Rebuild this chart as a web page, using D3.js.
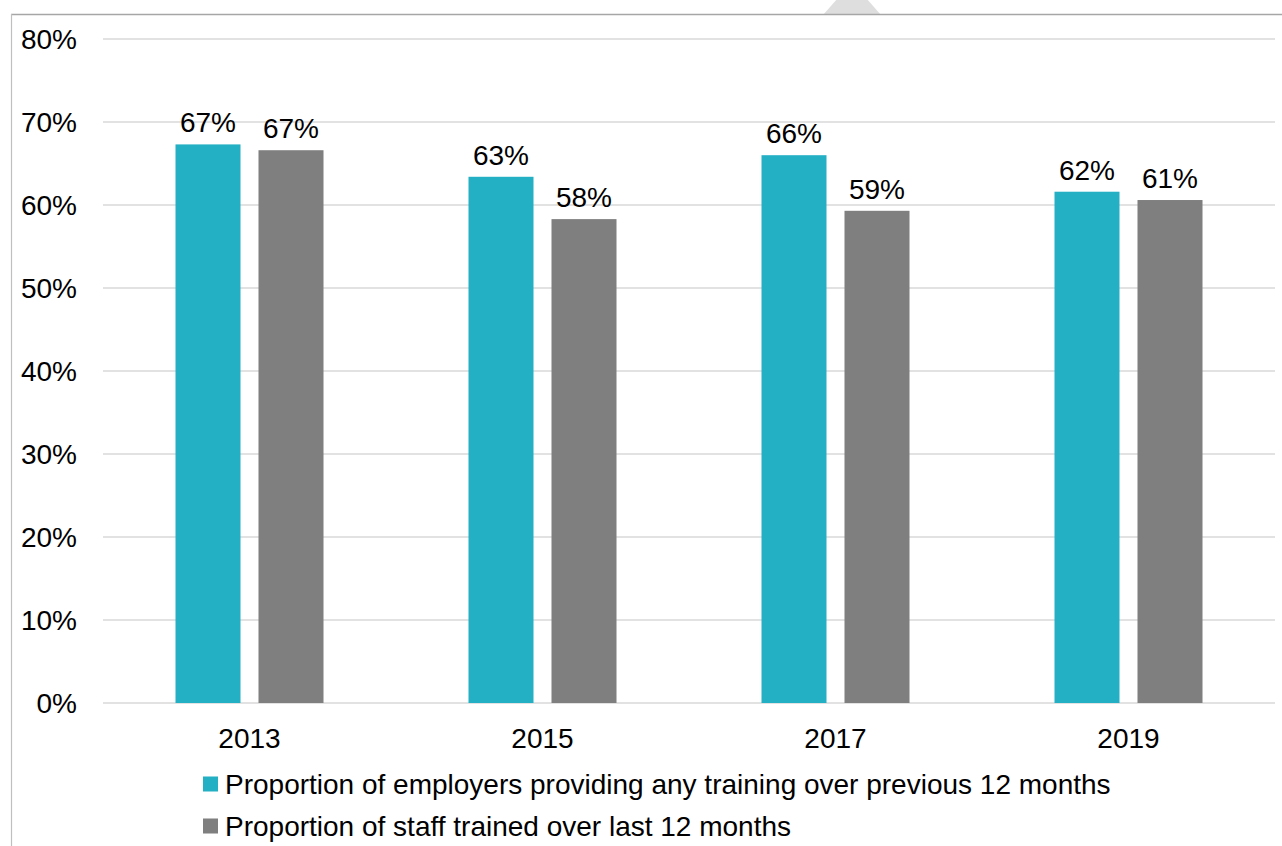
<!DOCTYPE html>
<html><head><meta charset="utf-8">
<script src="https://cdn.jsdelivr.net/npm/d3@7"></script>
<style>body{margin:0;background:#fff}svg{display:block}</style>
</head><body>
<svg id="c" width="1282" height="846"></svg>
<script>
const years = ["2013","2015","2017","2019"];
const employers = [67.3, 63.4, 66.0, 61.6];
const staff = [66.6, 58.3, 59.3, 60.6];
const employersLabels = ["67%","63%","66%","62%"];
const staffLabels = ["67%","58%","59%","61%"];
const yTicks = [0,10,20,30,40,50,60,70,80];
const seriesNames = ["Proportion of employers providing any training over previous 12 months","Proportion of staff trained over last 12 months"];
const colors = ["#23B0C5","#7F7F7F"];

const svg = d3.select("#c");
const font = "'Liberation Sans', Arial, sans-serif";
const fs = 28;

// decorative triangle at top
svg.append("path").attr("d","M823,15 L838,-2 L866,-2 L881,15 Z").attr("fill","#dedede");
// frame
svg.append("line").attr("x1",11).attr("x2",1282).attr("y1",14.5).attr("y2",14.5).attr("stroke","#a6a6a6").attr("stroke-width",1.5);
svg.append("line").attr("x1",11.5).attr("x2",11.5).attr("y1",14).attr("y2",846).attr("stroke","#bfbfbf").attr("stroke-width",1.2);

const x = d3.scaleBand().domain(years).range([103,1275]).paddingInner(0).paddingOuter(0);
const y = d3.scaleLinear().domain([0,80]).range([703,39]);

// gridlines
svg.append("g").selectAll("line").data(yTicks).join("line")
  .attr("x1",103).attr("x2",1275).attr("y1",d=>y(d)).attr("y2",d=>y(d))
  .attr("stroke","#d9d9d9").attr("stroke-width",1.3);

// y labels
svg.append("g").selectAll("text").data(yTicks).join("text")
  .attr("x",77).attr("y",d=>y(d)).attr("dy","0.35em").attr("text-anchor","end")
  .attr("font-family",font).attr("font-size",fs).attr("fill","#000").text(d=>d+"%");

const barW = 65, gap = 18;
const series = [employers, staff];
const labels = [employersLabels, staffLabels];
series.forEach((vals,si)=>{
  const off = si===0 ? -(gap/2+barW) : gap/2;
  svg.append("g").selectAll("rect").data(vals).join("rect")
    .attr("x",(d,i)=>x(years[i])+x.bandwidth()/2+off)
    .attr("y",d=>y(d)).attr("width",barW).attr("height",d=>y(0)-y(d))
    .attr("fill",colors[si]);
  svg.append("g").selectAll("text").data(vals).join("text")
    .attr("x",(d,i)=>x(years[i])+x.bandwidth()/2+off+barW/2)
    .attr("y",d=>y(d)-12).attr("text-anchor","middle")
    .attr("font-family",font).attr("font-size",fs).attr("fill","#000")
    .text((d,i)=>labels[si][i]);
});

// x labels
svg.append("g").selectAll("text").data(years).join("text")
  .attr("x",d=>x(d)+x.bandwidth()/2).attr("y",738).attr("dy","0.35em").attr("text-anchor","middle")
  .attr("font-family",font).attr("font-size",fs).attr("fill","#000").text(d=>d);

// legend
const lg = svg.append("g").selectAll("g").data(seriesNames).join("g")
  .attr("transform",(d,i)=>`translate(203,${784+i*42})`);
lg.append("rect").attr("x",0).attr("y",-7.5).attr("width",15).attr("height",15).attr("fill",(d,i)=>colors[i]);
lg.append("text").attr("x",22).attr("y",0).attr("dy","0.35em")
  .attr("font-family",font).attr("font-size",fs).attr("fill","#000").text(d=>d);
</script>
</body></html>
